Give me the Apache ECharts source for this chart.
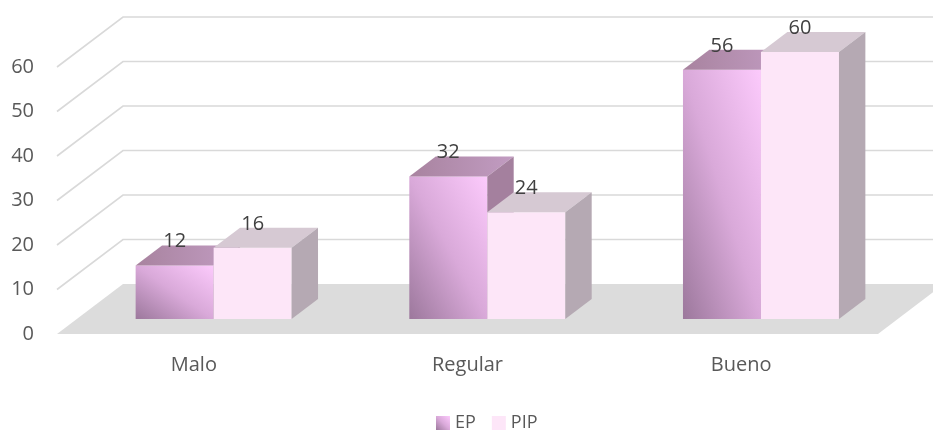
<!DOCTYPE html>
<html>
<head>
<meta charset="utf-8">
<script src="https://cdn.jsdelivr.net/npm/echarts@6/dist/echarts.min.js"></script>
<style>
  html, body { margin: 0; padding: 0; background: #fff; }
  #chartBox { width: 933px; height: 433px; }
</style>
</head>
<body>
<div id="chartBox"></div>
<script>
// datos
const categories = ['Malo', 'Regular', 'Bueno']
const epValues = [12, 32, 56]
const pipValues = [16, 24, 60]
const yTicks = [0, 10, 20, 30, 40, 50, 60]

// profundidad del "3D" (pixeles)
const DEPTH_X = 66
const DEPTH_Y = -50

const FONT = 'Open Sans'

function wallRender (params, api) {
  const cs = params.coordSys
  const v = api.value(1)
  const y = api.coord([0, v])[1]
  const xl = cs.x
  const xr = cs.x + cs.width
  if (v === 0) {
    return {
      type: 'polygon',
      shape: { points: [[xl, y], [xr, y], [xr + DEPTH_X, y + DEPTH_Y], [xl + DEPTH_X, y + DEPTH_Y]] },
      style: { fill: '#dcdcdc' }
    }
  }
  return {
    type: 'polyline',
    shape: { points: [[xl, y], [xl + DEPTH_X, y + DEPTH_Y], [xr + DEPTH_X, y + DEPTH_Y]] },
    style: { stroke: '#d9d9d9', lineWidth: 1.6, fill: null }
  }
}

// gradiente del frente de EP a 45 grados "escalado con la forma":
// las lineas de igual color van de la esquina sup-izq a la inf-der
function epGradient (x0, yb, bw, h) {
  const s = 2 * bw * h / (h * h + bw * bw)
  return new echarts.graphic.LinearGradient(x0, yb, x0 + h * s, yb - bw * s, [
    { offset: 0, color: '#9c789c' },
    { offset: 0.5, color: '#d9a9d9' },
    { offset: 1, color: '#fccafc' }
  ], true)
}

function barRender (side, front, top, lateral) {
  return function (params, api) {
    const i = api.value(0)
    const v = api.value(1)
    const base = api.coord([i, 0])
    const peak = api.coord([i, v])
    const bw = api.size([1, 0])[0] * 0.285
    const sx = DEPTH_X * 0.3
    const sy = DEPTH_Y * 0.3
    const dx = DEPTH_X * 0.4
    const dy = DEPTH_Y * 0.4
    const x0 = base[0] + sx + (side < 0 ? -bw : 0)
    const yb = base[1] + sy
    const yt = peak[1] + sy
    const fill = front === 'gradient' ? epGradient(x0, yb, bw, yb - yt) : front
    return {
      type: 'group',
      children: [
        {
          type: 'rect',
          shape: { x: x0, y: yt, width: bw, height: yb - yt },
          style: { fill: fill }
        },
        {
          type: 'polygon',
          shape: { points: [[x0, yt], [x0 + bw, yt], [x0 + bw + dx, yt + dy], [x0 + dx, yt + dy]] },
          style: { fill: top }
        },
        {
          type: 'polygon',
          shape: { points: [[x0 + bw, yt], [x0 + bw + dx, yt + dy], [x0 + bw + dx, yb + dy], [x0 + bw, yb]] },
          style: { fill: lateral }
        },
        {
          type: 'text',
          x: x0 + bw / 2,
          y: yt - 24,
          style: {
            text: String(v),
            fill: '#404040',
            font: '20px "' + FONT + '"',
            align: 'center',
            verticalAlign: 'middle'
          }
        }
      ]
    }
  }
}

const epLegend = new echarts.graphic.LinearGradient(0, 1, 1, 0, [
  { offset: 0, color: '#9c789c' },
  { offset: 0.5, color: '#d9a9d9' },
  { offset: 1, color: '#fccafc' }
])
const epTop = new echarts.graphic.LinearGradient(0, 0, 1, 0, [
  { offset: 0, color: '#a8839f' },
  { offset: 1, color: '#c29cc2' }
])

let myChart = echarts.init(document.getElementById('chartBox'))
myChart.setOption({
  animation: false,
  textStyle: { fontFamily: FONT },
  grid: {
    left: 57,
    right: 55,
    top: 67,
    bottom: 99
  },
  legend: {
    left: 436,
    top: 414,
    padding: 0,
    itemWidth: 14,
    itemHeight: 14,
    itemGap: 16,
    textStyle: { fontSize: 18, color: '#595959', fontFamily: FONT },
    data: [{ name: 'EP', icon: 'rect' }, { name: 'PIP', icon: 'rect' }]
  },
  xAxis: {
    type: 'category',
    data: categories,
    axisLine: { show: false },
    axisTick: { show: false },
    axisLabel: { fontSize: 20, color: '#595959', margin: 21, fontFamily: FONT }
  },
  yAxis: {
    type: 'value',
    min: 0,
    max: 60,
    interval: 10,
    axisLine: { show: false },
    axisTick: { show: false },
    splitLine: { show: false },
    axisLabel: { fontSize: 20, color: '#595959', margin: 23, fontFamily: FONT }
  },
  series: [
    {
      name: 'walls',
      type: 'custom',
      silent: true,
      clip: false,
      z: 1,
      encode: { x: 0, y: 1 },
      data: yTicks.map(v => [0, v]),
      renderItem: wallRender
    },
    {
      name: 'EP',
      type: 'custom',
      clip: false,
      z: 2,
      itemStyle: { color: epLegend },
      encode: { x: 0, y: 1 },
      data: epValues.map((v, i) => [i, v]),
      renderItem: barRender(-1, 'gradient', epTop, '#a4809e')
    },
    {
      name: 'PIP',
      type: 'custom',
      clip: false,
      z: 3,
      itemStyle: { color: '#fde6f8' },
      encode: { x: 0, y: 1 },
      data: pipValues.map((v, i) => [i, v]),
      renderItem: barRender(1, '#fde6f8', '#d6c9d3', '#b5a9b3')
    }
  ]
})
</script>
</body>
</html>
